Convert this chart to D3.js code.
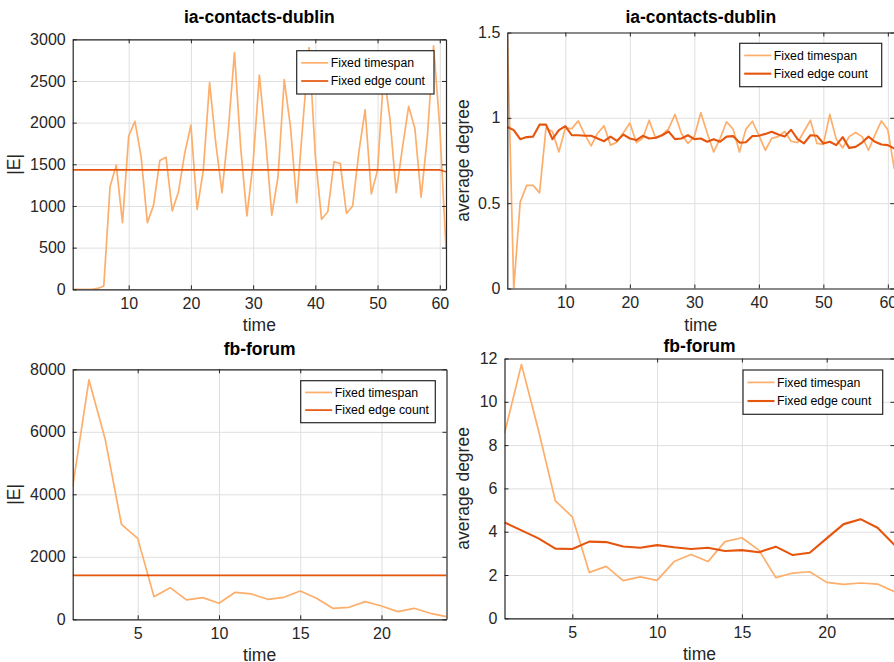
<!DOCTYPE html>
<html>
<head>
<meta charset="utf-8">
<script src="https://cdn.jsdelivr.net/npm/d3@7"></script>
<style>
  html, body { margin: 0; padding: 0; background: #fff; }
  svg { display: block; font-family: "Liberation Sans", Arial, Helvetica, sans-serif; }
</style>
</head>
<body>
<svg id="chart" width="894" height="662"></svg>
<script>
// ---------------- DATA ----------------
const seriesNames = ["Fixed timespan", "Fixed edge count"];
const titles = ["ia-contacts-dublin", "ia-contacts-dublin", "fb-forum", "fb-forum"];
const yLabels = ["|E|", "average degree", "|E|", "average degree"];
const xLabel = "time";

const dublinTime = d3.range(1, 62);
const forumTime = d3.range(1, 25);

const dublinEdgesTimespan = [0, 0, 0, 0, 10, 40, 1230, 1490, 800, 1840, 2015, 1590, 800, 1010, 1545, 1585, 940, 1170, 1630, 1970,
  960, 1430, 2480, 1750, 1160, 1900, 2840, 1700, 880, 1520, 2570, 1800, 890, 1350, 2515, 1950, 1040, 2000, 2900, 1600,
  840, 930, 1530, 1510, 910, 1000, 1650, 2155, 1145, 1430, 2600, 2040, 1160, 1700, 2195, 1930, 1105, 1830, 2920, 1950, 490];
const dublinEdgesEdge = [1432, 1432, 1432, 1432, 1432, 1432, 1432, 1432, 1432, 1432, 1432, 1432, 1432, 1432, 1432, 1432, 1432, 1432, 1432, 1432,
  1432, 1432, 1432, 1432, 1432, 1432, 1432, 1432, 1432, 1432, 1432, 1432, 1432, 1432, 1432, 1432, 1432, 1432, 1432, 1432,
  1432, 1432, 1432, 1432, 1432, 1432, 1432, 1432, 1432, 1432, 1432, 1432, 1432, 1432, 1432, 1432, 1432, 1432, 1432, 1432, 1410];

const dublinDegTimespan = [1.5, 0, 0.506, 0.604, 0.604, 0.56, 0.94, 0.92, 0.80, 0.94, 0.937, 0.982, 0.903, 0.836, 0.91, 0.953, 0.84, 0.857, 0.912, 0.97,
  0.855, 0.88, 0.986, 0.88, 0.90, 0.935, 1.02, 0.908, 0.85, 0.89, 1.03, 0.91, 0.80, 0.88, 0.977, 0.934, 0.80, 0.934, 0.98, 0.898,
  0.81, 0.88, 0.89, 0.92, 0.863, 0.855, 0.92, 0.986, 0.85, 0.845, 1.02, 0.875, 0.824, 0.89, 0.914, 0.89, 0.81, 0.90, 0.982, 0.93, 0.70];
const dublinDegEdge = [0.947, 0.928, 0.875, 0.887, 0.89, 0.96, 0.96, 0.875, 0.928, 0.951, 0.898, 0.898, 0.895, 0.895, 0.879, 0.863, 0.89, 0.865, 0.902, 0.879,
  0.87, 0.895, 0.879, 0.883, 0.898, 0.92, 0.875, 0.879, 0.898, 0.875, 0.879, 0.86, 0.875, 0.86, 0.89, 0.893, 0.855, 0.857, 0.893, 0.895,
  0.906, 0.918, 0.902, 0.89, 0.93, 0.875, 0.85, 0.898, 0.895, 0.85, 0.86, 0.84, 0.887, 0.824, 0.83, 0.855, 0.89, 0.86, 0.844, 0.84, 0.82];

const forumEdgesTimespan = [4245, 7660, 5760, 3040, 2590, 725, 1013, 620, 693, 512, 864, 811, 640, 704, 907, 672, 352, 384, 565, 427, 245, 352, 192, 85];
const forumEdgesEdge = [1408, 1408, 1408, 1408, 1408, 1408, 1408, 1408, 1408, 1408, 1408, 1408, 1408, 1408, 1408, 1408, 1408, 1408, 1408, 1408, 1408, 1408, 1408, 1408];

const forumDegTimespan = [8.54, 11.72, 8.7, 5.42, 4.69, 2.12, 2.4, 1.74, 1.91, 1.75, 2.62, 2.95, 2.62, 3.54, 3.72, 3.15, 1.88, 2.09, 2.15, 1.66, 1.57, 1.63, 1.58, 1.23];
const forumDegEdge = [4.43, 4.06, 3.69, 3.22, 3.2, 3.54, 3.52, 3.32, 3.26, 3.38, 3.28, 3.2, 3.26, 3.11, 3.15, 3.05, 3.31, 2.92, 3.03, 3.69, 4.35, 4.58, 4.18, 3.38];

const dublinXTicks = [10, 20, 30, 40, 50, 60];
const forumXTicks = [5, 10, 15, 20];
const edgesYTicksDublin = [0, 500, 1000, 1500, 2000, 2500, 3000];
const degYTicksDublin = [0, 0.5, 1, 1.5];
const edgesYTicksForum = [0, 2000, 4000, 6000, 8000];
const degYTicksForum = [0, 2, 4, 6, 8, 10, 12];

// ---------------- LAYOUT / STYLE ----------------
const colLight = "#fdae6b";
const colDark = "#e6550d";
const axisCol = "#262626";
const gridCol = "#dfdfdf";

const panels = [
  { title: titles[0], ylab: yLabels[0], x: dublinTime, s1: dublinEdgesTimespan, s2: dublinEdgesEdge,
    xd: [1, 61], yd: [0, 3000], xt: dublinXTicks, yt: edgesYTicksDublin,
    L: 72.7, R: 446, T: 39.3, B: 289.3, titleY: 23, ylabX: 20, w2: 1.7,
    leg: { x: 296.7, y: 50.7, w: 137.3, h: 43.3 } },
  { title: titles[1], ylab: yLabels[1], x: dublinTime, s1: dublinDegTimespan, s2: dublinDegEdge,
    xd: [1, 61], yd: [0, 1.5], xt: dublinXTicks, yt: degYTicksDublin,
    L: 507.3, R: 894.3, T: 32.5, B: 288.5, titleY: 23, ylabX: 469, w2: 2.1,
    leg: { x: 739.7, y: 43.3, w: 142, h: 43.4 } },
  { title: titles[2], ylab: yLabels[2], x: forumTime, s1: forumEdgesTimespan, s2: forumEdgesEdge,
    xd: [1, 24], yd: [0, 8000], xt: forumXTicks, yt: edgesYTicksForum,
    L: 72.7, R: 446.5, T: 369.3, B: 619.3, titleY: 355, ylabX: 20, w2: 1.7,
    leg: { x: 300.7, y: 380.7, w: 134.6, h: 42 } },
  { title: titles[3], ylab: yLabels[3], x: forumTime, s1: forumDegTimespan, s2: forumDegEdge,
    xd: [1, 24], yd: [0, 12], xt: forumXTicks, yt: degYTicksForum,
    L: 504.5, R: 894.5, T: 358.5, B: 618.3, titleY: 352, ylabX: 469, w2: 2.1,
    leg: { x: 743, y: 370, w: 139.7, h: 44.3 } }
];

const svg = d3.select("#chart");
svg.append("rect").attr("width", 894).attr("height", 662).attr("fill", "#fff");

panels.forEach((p, idx) => {
  const g = svg.append("g");
  const x = d3.scaleLinear().domain(p.xd).range([p.L, p.R]);
  const y = d3.scaleLinear().domain(p.yd).range([p.B, p.T]);
  const W = p.R - p.L, H = p.B - p.T;

  // grid
  g.append("g").attr("transform", `translate(0,${p.B})`)
    .call(d3.axisBottom(x).tickValues(p.xt).tickSize(-H).tickFormat(""))
    .call(s => { s.select(".domain").remove(); s.selectAll("line").attr("stroke", gridCol).attr("stroke-width", 1); });
  g.append("g").attr("transform", `translate(${p.L},0)`)
    .call(d3.axisLeft(y).tickValues(p.yt).tickSize(-W).tickFormat(""))
    .call(s => { s.select(".domain").remove(); s.selectAll("line").attr("stroke", gridCol).attr("stroke-width", 1); });

  // clip
  const cid = "clip" + idx;
  svg.append("clipPath").attr("id", cid).append("rect")
    .attr("x", p.L).attr("y", p.T).attr("width", W).attr("height", H);

  const line = d3.line().x((d, i) => x(p.x[i])).y(d => y(d));
  const lg = g.append("g").attr("clip-path", `url(#${cid})`);
  lg.append("path").datum(p.s1).attr("d", line).attr("fill", "none")
    .attr("stroke", colLight).attr("stroke-width", 1.7).attr("stroke-linejoin", "round");
  lg.append("path").datum(p.s2).attr("d", line).attr("fill", "none")
    .attr("stroke", colDark).attr("stroke-width", p.w2).attr("stroke-linejoin", "round");

  // axes (ticks inward, all four sides)
  const fmt = d => String(d);
  const styleAxis = s => {
    s.select(".domain").attr("stroke", axisCol).attr("stroke-width", 1.2);
    s.selectAll(".tick line").attr("stroke", axisCol).attr("stroke-width", 1);
    s.selectAll("text").attr("fill", axisCol).style("font-size", "16px")
      .style("font-family", '"Liberation Sans", Arial, sans-serif');
  };
  g.append("g").attr("transform", `translate(0,${p.B})`)
    .call(d3.axisBottom(x).tickValues(p.xt).tickSizeInner(-4).tickSizeOuter(0).tickPadding(8).tickFormat(fmt))
    .call(styleAxis);
  g.append("g").attr("transform", `translate(0,${p.T})`)
    .call(d3.axisTop(x).tickValues(p.xt).tickSizeInner(-4).tickSizeOuter(0).tickFormat(""))
    .call(styleAxis);
  g.append("g").attr("transform", `translate(${p.L},0)`)
    .call(d3.axisLeft(y).tickValues(p.yt).tickSizeInner(-4).tickSizeOuter(0).tickPadding(7).tickFormat(fmt))
    .call(styleAxis);
  g.append("g").attr("transform", `translate(${p.R},0)`)
    .call(d3.axisRight(y).tickValues(p.yt).tickSizeInner(-4).tickSizeOuter(0).tickFormat(""))
    .call(styleAxis);

  // title
  g.append("text").attr("x", (p.L + p.R) / 2).attr("y", p.titleY)
    .attr("text-anchor", "middle").attr("font-weight", "bold").attr("font-size", 17.5)
    .attr("fill", "#000").text(p.title);
  // x label
  g.append("text").attr("x", (p.L + p.R) / 2).attr("y", p.B + 42)
    .attr("text-anchor", "middle").attr("font-size", 17.5).attr("fill", axisCol).text(xLabel);
  // y label
  g.append("text").attr("transform", `translate(${p.ylabX},${(p.T + p.B) / 2}) rotate(-90)`)
    .attr("text-anchor", "middle").attr("font-size", 17.5).attr("fill", axisCol).text(p.ylab);

  // legend
  const L = p.leg;
  const lgd = g.append("g");
  lgd.append("rect").attr("x", L.x).attr("y", L.y).attr("width", L.w).attr("height", L.h)
    .attr("fill", "#fff").attr("stroke", axisCol).attr("stroke-width", 1.2);
  const rows = [L.y + L.h * 0.28, L.y + L.h * 0.70];
  [colLight, colDark].forEach((c, k) => {
    lgd.append("line").attr("x1", L.x + 4.5).attr("x2", L.x + 31.5)
      .attr("y1", rows[k]).attr("y2", rows[k]).attr("stroke", c).attr("stroke-width", k === 0 ? 1.7 : p.w2);
    lgd.append("text").attr("x", L.x + 34).attr("y", rows[k]).attr("dy", "0.35em")
      .attr("font-size", 12.3).attr("fill", "#000").text(seriesNames[k]);
  });
});
</script>
</body>
</html>
